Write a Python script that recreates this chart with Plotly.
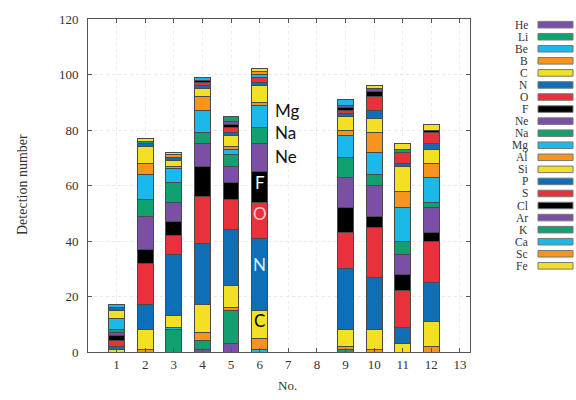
import plotly.graph_objects as go

# ---------------- data ----------------
categories = list(range(1, 14))
elements = ["He", "Li", "Be", "B", "C", "N", "O", "F", "Ne", "Na", "Mg",
            "Al", "Si", "P", "S", "Cl", "Ar", "K", "Ca", "Sc", "Fe"]

He = [0, 0, 0, 1, 3, 0, 0, 0, 0, 0, 0, 0, 0]
Li = [0, 0, 8, 3, 12, 0, 0, 0, 1, 0, 0, 0, 0]
Be = [0, 0, 1, 0, 0, 1, 0, 0, 0, 0, 0, 0, 0]
B = [0, 1, 0, 3, 1, 4, 0, 0, 1, 1, 0, 2, 0]
C = [1, 7, 4, 10, 8, 10, 0, 0, 6, 7, 3, 9, 0]
N = [1, 9, 22, 22, 20, 26, 0, 0, 22, 19, 6, 14, 0]
O = [2, 15, 7, 17, 11, 13, 0, 0, 13, 18, 13, 15, 0]
F = [2, 5, 5, 11, 6, 11, 0, 0, 9, 4, 6, 3, 0]
Ne = [1, 12, 7, 8, 6, 10, 0, 0, 11, 11, 7, 9, 0]
Na = [1, 6, 7, 4, 4, 6, 0, 0, 7, 4, 5, 2, 0]
Mg = [4, 9, 5, 8, 2, 8, 0, 0, 8, 8, 12, 9, 0]
Al = [0, 4, 1, 5, 1, 1, 0, 0, 2, 7, 6, 5, 0]
Si = [3, 6, 2, 3, 4, 6, 0, 0, 5, 5, 9, 5, 0]
P = [1, 1, 1, 1, 1, 1, 0, 0, 1, 3, 1, 2, 0]
S = [0, 0, 0, 1, 2, 2, 0, 0, 1, 5, 4, 4, 0]
Cl = [0, 0, 0, 1, 1, 0, 0, 0, 1, 2, 0, 1, 0]
Ar = [0, 0, 0, 0, 1, 0, 0, 0, 1, 1, 0, 0, 0]
K = [0, 1, 0, 0, 2, 0, 0, 0, 0, 0, 1, 0, 0]
Ca = [1, 0, 0, 1, 0, 1, 0, 0, 2, 0, 0, 0, 0]
Sc = [0, 0, 1, 0, 0, 1, 0, 0, 0, 0, 0, 0, 0]
Fe = [0, 1, 1, 0, 0, 1, 0, 0, 0, 1, 2, 2, 0]

series = [He, Li, Be, B, C, N, O, F, Ne, Na, Mg, Al, Si, P, S, Cl, Ar, K, Ca, Sc, Fe]

palette = ["#7b4fa6", "#12a070", "#1bb8ea", "#f7941d", "#f3e024",
           "#0f6fb6", "#e8313b", "#000000"]
colors = [palette[i % len(palette)] for i in range(len(elements))]

# labels drawn on / beside bar No. 6
inner_labels = {"C": "#000000", "N": "#d8eefa", "O": "#f8c8cc", "F": "#ffffff"}
inner_shift = {"C": 1.5, "N": 3.5, "O": 2.5, "F": 1.5}
side_labels = ["Ne", "Na", "Mg"]
side_shift = {"Ne": 0.6, "Na": 1.2, "Mg": 2.0}
label_bar = 6

# ---------------- figure ----------------
serif = "Liberation Serif"
fig = go.Figure()
for name, vals, col in zip(elements, series, colors):
    fig.add_trace(go.Bar(
        x=categories, y=[v if v else None for v in vals], name=name,
        marker=dict(color=col, line=dict(color="#4a4a4a", width=1)),
        width=0.55, showlegend=False,
    ))

# ---- positions of the annotation texts, from the stacked data ----
idx = categories.index(label_bar)
cum = 0
centers = {}
for name, vals in zip(elements, series):
    v = vals[idx]
    centers[name] = cum + v / 2
    cum += v

annotations = []
for name, col in inner_labels.items():
    annotations.append(dict(x=label_bar, y=centers[name] + inner_shift[name],
                            xref="x", yref="y", text=name, showarrow=False,
                            font=dict(family="Lato", size=17, color=col),
                            xanchor="center", yanchor="middle"))
for name in side_labels:
    annotations.append(dict(x=label_bar + 0.45, y=centers[name] + side_shift[name],
                            xref="x", yref="y", text=name, showarrow=False,
                            font=dict(family="Lato", size=17, color="#111111"),
                            xanchor="left", yanchor="middle"))

# ---- custom legend (label left, swatch right) ----
L, R, T, Bm = 88, 106, 17, 48
W, H = 576 - L - R, 400 - T - Bm

def px_x(p):
    return (p - L) / W

def px_y(p):
    return (400 - Bm - p) / H

shapes = []
row0, step = 22.7, 12.13
for i, (name, col) in enumerate(zip(elements, colors)):
    yc = row0 + i * step
    shapes.append(dict(type="rect", xref="paper", yref="paper",
                       x0=px_x(538), x1=px_x(573), y0=px_y(yc + 3.3), y1=px_y(yc - 3.3),
                       fillcolor=col, line=dict(color="#777777", width=1)))
    annotations.append(dict(x=px_x(530), y=px_y(yc), xref="paper", yref="paper",
                            text=name, showarrow=False, xanchor="right", yanchor="middle",
                            font=dict(family=serif, size=11.5, color="#333333")))

# axis titles
annotations.append(dict(x=px_x(22), y=px_y(184), xref="paper", yref="paper",
                        text="Detection number", textangle=-90, showarrow=False,
                        xanchor="center", yanchor="middle",
                        font=dict(family=serif, size=14, color="#333333")))
annotations.append(dict(x=px_x(287), y=px_y(386), xref="paper", yref="paper",
                        text="No.", showarrow=False, xanchor="center", yanchor="middle",
                        font=dict(family=serif, size=13, color="#333333")))

fig.update_layout(
    barmode="stack",
    width=576, height=400,
    margin=dict(l=L, r=R, t=T, b=Bm, pad=0),
    paper_bgcolor="white", plot_bgcolor="white",
    annotations=annotations, shapes=shapes,
    showlegend=False,
)
fig.update_xaxes(
    range=[0, 13.35], tickmode="array", tickvals=categories,
    ticktext=[str(c) for c in categories],
    showline=True, mirror="ticks", linecolor="#555555", linewidth=1,
    ticks="inside", ticklen=4, tickcolor="#555555",
    showgrid=True, gridcolor="#eeeeee", griddash="dot",
    tickfont=dict(family=serif, size=13, color="#333333"),
    zeroline=False,
)
fig.update_yaxes(
    range=[0, 120], tickmode="array", tickvals=[0, 20, 40, 60, 80, 100, 120],
    showline=True, mirror="ticks", linecolor="#555555", linewidth=1,
    ticks="inside", ticklen=4, tickcolor="#555555",
    showgrid=True, gridcolor="#e8e8e8", griddash="dot",
    tickfont=dict(family=serif, size=13, color="#333333"),
    ticklabelstandoff=6,
    zeroline=False,
)

fig.write_html("out.html")
